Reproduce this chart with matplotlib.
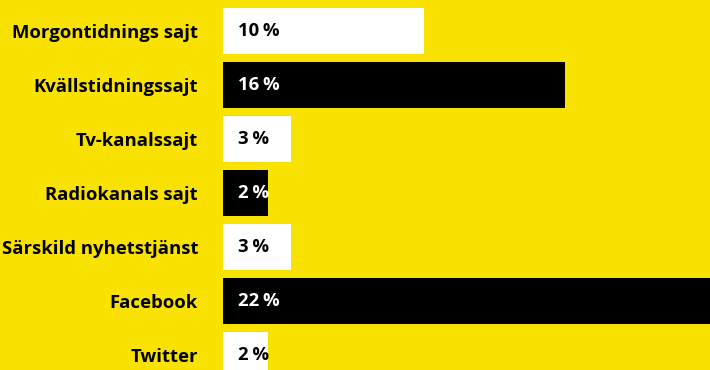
import matplotlib.pyplot as plt

plt.rcParams['font.family'] = ['Open Sans', 'DejaVu Sans']

categories = ['Morgontidnings sajt', 'Kvällstidningssajt', 'Tv-kanalssajt',
              'Radiokanals sajt', 'Särskild nyhetstjänst', 'Facebook', 'Twitter']
# bar lengths (percent)
values = [9.4, 16.0, 3.2, 2.1, 3.2, 23.0, 2.1]
# printed labels
pct = [10, 16, 3, 2, 3, 22, 2]
bar_colors = ['white', 'black', 'white', 'black', 'white', 'black', 'white']
text_colors = ['black', 'white', 'black', 'white', 'black', 'white', 'black']

bg = '#fae200'

fig = plt.figure(figsize=(7.1, 3.7), dpi=100, facecolor=bg)
ax = fig.add_axes([223 / 710, 0, 487 / 710, 1])
ax.set_facecolor(bg)

y = list(range(len(categories)))
ax.barh(y, values, height=46 / 54, color=bar_colors, zorder=2)

for i, (p, c) in enumerate(zip(pct, text_colors)):
    ax.annotate(f'{p}\u2009%', (0, i), xytext=(15, 0), textcoords='offset pixels',
                ha='left', va='center', fontsize=13.3, fontweight='bold', color=c)

ax.set_xlim(0, 487 / 21.4)
ax.set_ylim((370 - 31) / 54, -31 / 54)
ax.set_yticks(y)
ax.set_yticklabels(categories, fontsize=13.3, fontweight='bold', color='black')
ax.tick_params(axis='y', length=0, pad=18)
ax.set_xticks([])
for s in ax.spines.values():
    s.set_visible(False)

fig.savefig('out.png', dpi=100, facecolor=bg)
